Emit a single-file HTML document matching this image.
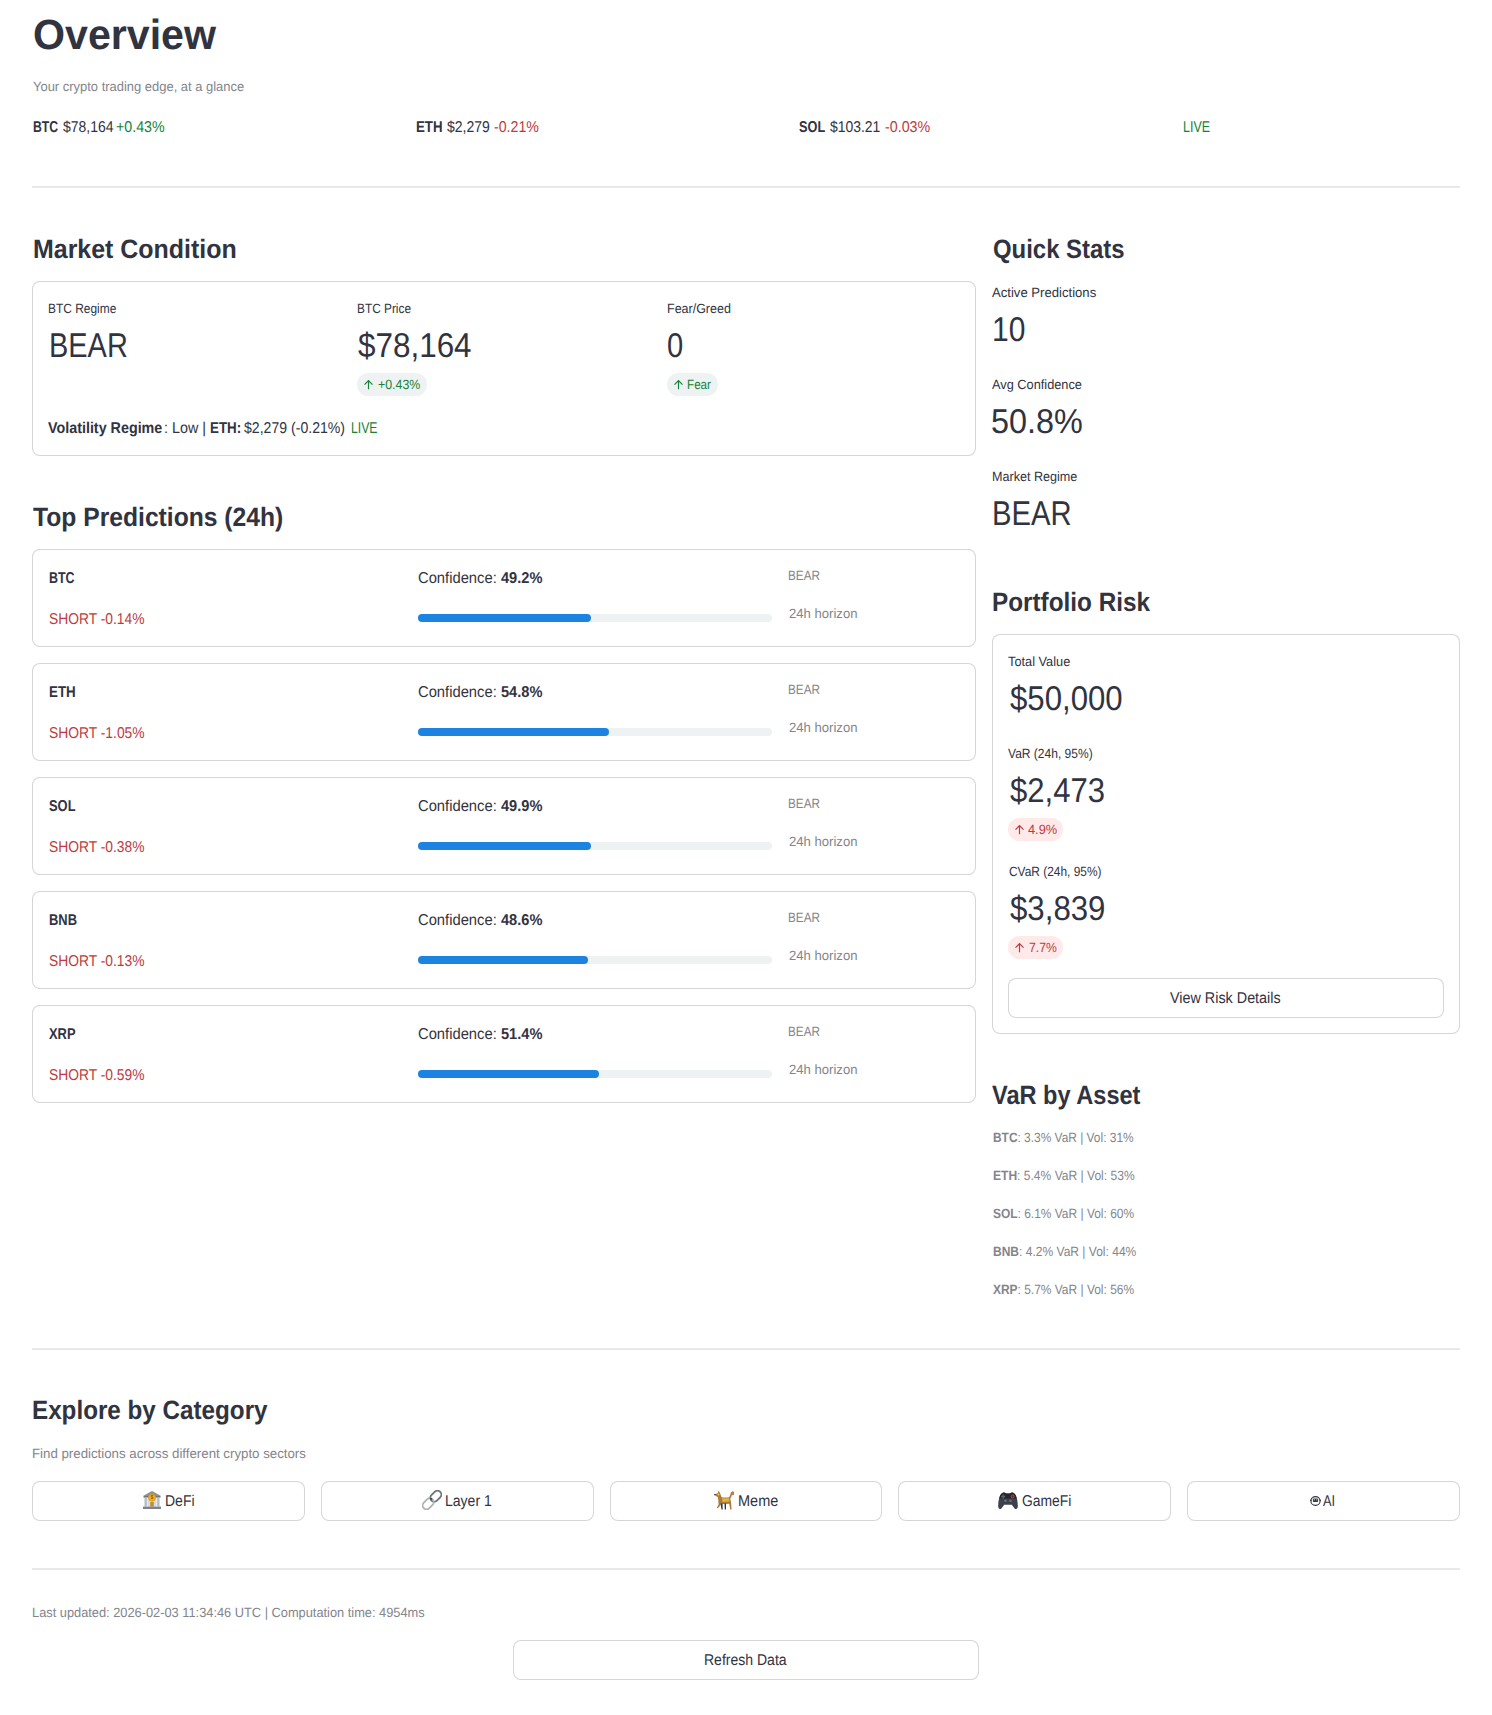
<!DOCTYPE html>
<html><head><meta charset="utf-8"><title>Overview</title><style>
*{margin:0;padding:0;box-sizing:border-box}
html,body{width:1492px;height:1715px;background:#fff;overflow:hidden}
body{position:relative;font-family:"Liberation Sans",sans-serif;color:#31333f}
.t{position:absolute;white-space:nowrap;line-height:1;transform-origin:0 0;font-family:"Liberation Sans",sans-serif;text-rendering:geometricPrecision}
.t b{font-weight:700}
.g{color:#158237} .r{color:#bd3a3e}
.hr{position:absolute;left:32px;width:1428px;height:2px;background:#e8e8ea}
.box{position:absolute;border:1px solid rgba(49,51,63,0.2);border-radius:8px;background:#fff}
.btn{position:absolute;border:1px solid rgba(49,51,63,0.2);border-radius:8px;background:#fff}
.pill{position:absolute;border-radius:12px}
.trk{position:absolute;height:8px;border-radius:4px;background:#eff2f3}
.fil{position:absolute;height:8px;border-radius:4px;background:#1c83e1}
</style></head><body>
<div class="hr" style="top:186px"></div>
<div class="hr" style="top:1348px"></div>
<div class="hr" style="top:1568px"></div>
<div class="box" style="left:32px;top:281px;width:944px;height:175px"></div>
<div class="box" style="left:992px;top:634px;width:468px;height:400px"></div>
<div class="pill" style="left:357px;top:373px;width:70px;height:23px;background:#eef2f3"></div>
<div class="pill" style="left:667px;top:373px;width:51px;height:23px;background:#eef2f3"></div>
<div class="pill" style="left:1008px;top:818px;width:55px;height:23px;background:#ffe9e9"></div>
<div class="pill" style="left:1008px;top:936px;width:55px;height:23px;background:#ffe9e9"></div>
<svg class="d" style="position:absolute;left:363px;top:379px" width="11" height="11" viewBox="0 0 11 11"><path d="M5.5 10.3V1.6M1.5 5.6L5.5 1.6L9.5 5.6" fill="none" stroke="#158237" stroke-width="1.15"/></svg>
<svg class="d" style="position:absolute;left:673px;top:379px" width="11" height="11" viewBox="0 0 11 11"><path d="M5.5 10.3V1.6M1.5 5.6L5.5 1.6L9.5 5.6" fill="none" stroke="#158237" stroke-width="1.15"/></svg>
<svg class="d" style="position:absolute;left:1014px;top:824px" width="11" height="11" viewBox="0 0 11 11"><path d="M5.5 10.3V1.6M1.5 5.6L5.5 1.6L9.5 5.6" fill="none" stroke="#bd3a3e" stroke-width="1.15"/></svg>
<svg class="d" style="position:absolute;left:1014px;top:942px" width="11" height="11" viewBox="0 0 11 11"><path d="M5.5 10.3V1.6M1.5 5.6L5.5 1.6L9.5 5.6" fill="none" stroke="#bd3a3e" stroke-width="1.15"/></svg>
<div class="box" style="left:32px;top:549px;width:944px;height:98px"></div>
<div class="trk" style="left:418px;top:614px;width:354px"></div>
<div class="fil" style="left:418px;top:614px;width:173.46px"></div>
<div class="box" style="left:32px;top:663px;width:944px;height:98px"></div>
<div class="trk" style="left:418px;top:728px;width:354px"></div>
<div class="fil" style="left:418px;top:728px;width:191.16px"></div>
<div class="box" style="left:32px;top:777px;width:944px;height:98px"></div>
<div class="trk" style="left:418px;top:842px;width:354px"></div>
<div class="fil" style="left:418px;top:842px;width:173.46px"></div>
<div class="box" style="left:32px;top:891px;width:944px;height:98px"></div>
<div class="trk" style="left:418px;top:956px;width:354px"></div>
<div class="fil" style="left:418px;top:956px;width:169.92px"></div>
<div class="box" style="left:32px;top:1005px;width:944px;height:98px"></div>
<div class="trk" style="left:418px;top:1070px;width:354px"></div>
<div class="fil" style="left:418px;top:1070px;width:180.54px"></div>
<div class="btn" style="left:1008px;top:978px;width:436px;height:40px"></div>
<div class="btn" style="left:32.00px;top:1481px;width:272.8px;height:40px"></div>
<div class="btn" style="left:320.80px;top:1481px;width:272.8px;height:40px"></div>
<div class="btn" style="left:609.60px;top:1481px;width:272.8px;height:40px"></div>
<div class="btn" style="left:898.40px;top:1481px;width:272.8px;height:40px"></div>
<div class="btn" style="left:1187.20px;top:1481px;width:272.8px;height:40px"></div>
<div class="btn" style="left:513px;top:1640px;width:466px;height:40px"></div>
<svg class="d" style="position:absolute;left:142px;top:1490px" width="20" height="20" viewBox="0 0 20 20">
<path d="M1 6L10 1L19 6Z" fill="#8a8f98"/><rect x="1.5" y="6" width="17" height="1.6" fill="#6e737c"/>
<rect x="2.5" y="7.6" width="2.4" height="9" fill="#b8bcc2"/><rect x="15.1" y="7.6" width="2.4" height="9" fill="#b8bcc2"/>
<rect x="5.5" y="7.6" width="9" height="9" fill="#d5d8dc"/><rect x="8.3" y="12" width="3.4" height="4.6" fill="#c48a2c"/>
<rect x="1" y="16.6" width="18" height="2.4" fill="#7d828b"/>
<circle cx="10" cy="7.6" r="3.6" fill="#f2b51f" stroke="#d08f10" stroke-width="0.6"/>
<text x="10" y="9.4" font-size="5.2" text-anchor="middle" fill="#8a5a00" font-family="Liberation Sans" font-weight="bold">$</text></svg>
<svg class="d" style="position:absolute;left:422px;top:1490px" width="20" height="20" viewBox="0 0 20 20">
<g fill="none">
<rect x="7.6" y="2.3" width="12.4" height="7.8" rx="3.9" transform="rotate(-45 13.8 6.2)" stroke="#6f737a" stroke-width="1.8"/>
<rect x="0" y="9.9" width="12.4" height="7.8" rx="3.9" transform="rotate(-45 6.2 13.8)" stroke="#aeb2b7" stroke-width="1.8"/>
<path d="M8.3 8.0L9.8 9.6" stroke="#3f434a" stroke-width="1.8"/>
</g></svg>
<svg class="d" style="position:absolute;left:714px;top:1490px" width="20" height="20" viewBox="0 0 20 20">
<path d="M0.6 4.6L3.6 3.2L4.6 0.6L6.2 3.4L7.2 6.4L8.4 7.6L15 7.6L16.2 8.6L17 12L17.6 19.4L16.3 19.4L15.2 13.8L12 14L10 14L7 14L5.5 16.5L3.4 18.6L2.9 17.6L4.5 15L4.4 11L3.9 7L1.8 6Z" fill="#a97a3a"/>
<path d="M15.2 8.2C17.4 7.2 16.6 3.4 18.2 2.4C19.5 1.6 20.2 3.6 18.8 4.4" fill="none" stroke="#b07a48" stroke-width="1.7" stroke-linecap="round"/>
<path d="M8 8.3L15 8.3L15.5 11.5L8.5 12Z" fill="#e0b440"/>
<path d="M6.5 13.5L7.5 19.5L8.7 19.5L8.5 13.5Z M10.5 13.5L10.8 19.5L12 19.5L12 13.5Z" fill="#2e3440"/>
<circle cx="0.9" cy="4.6" r="0.8" fill="#2e3440"/>
<circle cx="4.5" cy="4.5" r="0.9" fill="#f5d650"/></svg>
<svg class="d" style="position:absolute;left:998px;top:1492px" width="20" height="18" viewBox="0 0 20 18">
<path d="M4 1.2C5.5 0.2 7 0.6 8 1.4L12 1.4C13 0.6 14.5 0.2 16 1.2C18.5 2.8 19.6 8 19.8 13.5C20 17 18 17.8 16.6 16.4L13.8 12.8L6.2 12.8L3.4 16.4C2 17.8 0 17 0.2 13.5C0.4 8 1.5 2.8 4 1.2Z" fill="#3d414b"/>
<path d="M4 1.2C5.5 0.2 7 0.6 8 1.4L12 1.4C13 0.6 14.5 0.2 16 1.2C17.5 2.2 18.2 4 18.7 6.5L1.3 6.5C1.8 4 2.5 2.2 4 1.2Z" fill="#23262d"/>
<path d="M3.2 4.5H7.2M5.2 2.5V6.5" stroke="#5d636e" stroke-width="1.3"/>
<circle cx="14.6" cy="4.4" r="1.5" fill="#3a3e48" stroke="#d33a3a" stroke-width="0.9"/><circle cx="7.5" cy="8.8" r="1.3" fill="#6b717c"/><circle cx="12.5" cy="8.8" r="1.3" fill="#6b717c"/></svg>
<svg class="d" style="position:absolute;left:1310px;top:1495.6px" width="11" height="10" viewBox="0 0 11 10">
<ellipse cx="5.5" cy="5" rx="4.6" ry="4.4" fill="none" stroke="#31333f" stroke-width="1.1"/>
<rect x="2.9" y="2.6" width="5.2" height="3.4" rx="0.8" fill="#31333f"/>
<rect x="3.8" y="3.4" width="1" height="0.9" fill="#fff"/><rect x="6.2" y="3.4" width="1" height="0.9" fill="#fff"/>
<path d="M0.5 5L1.2 3.8M10.5 5L9.8 3.8" stroke="#31333f" stroke-width="1.2"/></svg>
<div class="t" id="title" style="left:32.59px;top:14.00px;font-size:42.20px;font-weight:700;transform:scaleX(0.9753)">Overview</div>
<div class="t" id="sub" style="left:32.79px;top:80.00px;font-size:13.40px;color:#83858c;transform:scaleX(0.9672)">Your crypto trading edge, at a glance</div>
<div class="t" id="tk1a" style="left:32.88px;top:120.00px;font-size:15.65px;font-weight:700;transform:scaleX(0.7834)">BTC</div>
<div class="t" id="tk1b" style="left:62.58px;top:120.00px;font-size:15.65px;transform:scaleX(0.8939)">$78,164</div>
<div class="t" id="tk1c" style="left:116.48px;top:120.00px;font-size:15.65px;color:#158237;transform:scaleX(0.9089)">+0.43%</div>
<div class="t" id="tk2a" style="left:415.93px;top:120.00px;font-size:15.65px;font-weight:700;transform:scaleX(0.8491)">ETH</div>
<div class="t" id="tk2b" style="left:447.13px;top:120.00px;font-size:15.65px;transform:scaleX(0.8956)">$2,279</div>
<div class="t" id="tk2c" style="left:493.68px;top:120.00px;font-size:15.65px;color:#bd3a3e;transform:scaleX(0.9057)">-0.21%</div>
<div class="t" id="tk3a" style="left:799.00px;top:120.00px;font-size:15.65px;font-weight:700;transform:scaleX(0.8135)">SOL</div>
<div class="t" id="tk3b" style="left:830.11px;top:120.00px;font-size:15.65px;transform:scaleX(0.8910)">$103.21</div>
<div class="t" id="tk3c" style="left:884.60px;top:120.00px;font-size:15.65px;color:#bd3a3e;transform:scaleX(0.9111)">-0.03%</div>
<div class="t" id="tk4" style="left:1183.40px;top:120.00px;font-size:15.65px;transform:scaleX(0.7959)"><span class=g>LIVE</span></div>
<div class="t" id="h_mc" style="left:33.39px;top:236.00px;font-size:26.50px;font-weight:700;transform:scaleX(0.9414)">Market Condition</div>
<div class="t" id="h_qs" style="left:992.60px;top:236.00px;font-size:26.50px;font-weight:700;transform:scaleX(0.9021)">Quick Stats</div>
<div class="t" id="l_reg" style="left:48.40px;top:302.00px;font-size:13.40px;transform:scaleX(0.8914)">BTC Regime</div>
<div class="t" id="l_pr" style="left:357.40px;top:302.00px;font-size:13.40px;transform:scaleX(0.8849)">BTC Price</div>
<div class="t" id="l_fg" style="left:666.60px;top:302.00px;font-size:13.40px;transform:scaleX(0.9324)">Fear/Greed</div>
<div class="t" id="v_reg" style="left:49.19px;top:329.00px;font-size:34.40px;transform:scaleX(0.8418)">BEAR</div>
<div class="t" id="v_pr" style="left:358.40px;top:329.00px;font-size:34.40px;transform:scaleX(0.9137)">$78,164</div>
<div class="t" id="v_fg" style="left:667.19px;top:329.00px;font-size:34.40px;transform:scaleX(0.8479)">0</div>
<div class="t" id="d_pr" style="left:378.00px;top:378.00px;font-size:13.40px;color:#158237;transform:scaleX(0.9238)">+0.43%</div>
<div class="t" id="d_fg" style="left:687.40px;top:378.00px;font-size:13.40px;color:#158237;transform:scaleX(0.8716)">Fear</div>
<div class="t" id="vol1" style="left:48.38px;top:421.00px;font-size:15.65px;font-weight:700;transform:scaleX(0.9154)">Volatility Regime</div>
<div class="t" id="vol2" style="left:163.88px;top:421.00px;font-size:15.65px;transform:scaleX(0.9185)">: Low |</div>
<div class="t" id="vol3" style="left:210.05px;top:421.00px;font-size:15.65px;font-weight:700;transform:scaleX(0.8542)">ETH:</div>
<div class="t" id="vol4" style="left:244.48px;top:421.00px;font-size:15.65px;transform:scaleX(0.9008)">$2,279 (-0.21%)</div>
<div class="t" id="vol5" style="left:351.40px;top:421.00px;font-size:15.65px;color:#158237;transform:scaleX(0.7822)">LIVE</div>
<div class="t" id="l_ap" style="left:992.00px;top:286.00px;font-size:13.40px;transform:scaleX(0.9792)">Active Predictions</div>
<div class="t" id="v_ap" style="left:992.40px;top:313.00px;font-size:34.40px;transform:scaleX(0.8718)">10</div>
<div class="t" id="l_ac" style="left:992.00px;top:378.00px;font-size:13.40px;transform:scaleX(0.9536)">Avg Confidence</div>
<div class="t" id="v_ac" style="left:991.40px;top:405.00px;font-size:34.40px;transform:scaleX(0.9412)">50.8%</div>
<div class="t" id="l_mr" style="left:992.40px;top:470.00px;font-size:13.40px;transform:scaleX(0.9401)">Market Regime</div>
<div class="t" id="v_mr" style="left:992.40px;top:497.00px;font-size:34.40px;transform:scaleX(0.8501)">BEAR</div>
<div class="t" id="h_tp" style="left:33.00px;top:504.00px;font-size:26.50px;font-weight:700;transform:scaleX(0.9305)">Top Predictions (24h)</div>
<div class="t" id="c0_sym" style="left:48.59px;top:571.00px;font-size:15.65px;font-weight:700;transform:scaleX(0.7961)">BTC</div>
<div class="t" id="c0_chg" style="left:48.59px;top:612.00px;font-size:15.65px;color:#bd3a3e;transform:scaleX(0.8834)">SHORT -0.14%</div>
<div class="t" id="c0_conf" style="left:418.40px;top:571.00px;font-size:15.65px;transform:scaleX(0.9435)">Confidence:</div>
<div class="t" id="c0_cnum" style="left:501.00px;top:571.00px;font-size:15.65px;font-weight:700;transform:scaleX(0.9339)">49.2%</div>
<div class="t" id="c0_bear" style="left:787.59px;top:569.00px;font-size:13.40px;color:#83858c;transform:scaleX(0.8754)">BEAR</div>
<div class="t" id="c0_hz" style="left:788.59px;top:607.00px;font-size:13.40px;color:#83858c;transform:scaleX(0.9782)">24h horizon</div>
<div class="t" id="c1_sym" style="left:48.59px;top:685.00px;font-size:15.65px;font-weight:700;transform:scaleX(0.8546)">ETH</div>
<div class="t" id="c1_chg" style="left:48.59px;top:726.00px;font-size:15.65px;color:#bd3a3e;transform:scaleX(0.8845)">SHORT -1.05%</div>
<div class="t" id="c1_conf" style="left:418.40px;top:685.00px;font-size:15.65px;transform:scaleX(0.9435)">Confidence:</div>
<div class="t" id="c1_cnum" style="left:501.00px;top:685.00px;font-size:15.65px;font-weight:700;transform:scaleX(0.9339)">54.8%</div>
<div class="t" id="c1_bear" style="left:787.59px;top:683.00px;font-size:13.40px;color:#83858c;transform:scaleX(0.8754)">BEAR</div>
<div class="t" id="c1_hz" style="left:788.59px;top:721.00px;font-size:13.40px;color:#83858c;transform:scaleX(0.9782)">24h horizon</div>
<div class="t" id="c2_sym" style="left:48.59px;top:799.00px;font-size:15.65px;font-weight:700;transform:scaleX(0.8253)">SOL</div>
<div class="t" id="c2_chg" style="left:48.59px;top:840.00px;font-size:15.65px;color:#bd3a3e;transform:scaleX(0.8840)">SHORT -0.38%</div>
<div class="t" id="c2_conf" style="left:418.40px;top:799.00px;font-size:15.65px;transform:scaleX(0.9435)">Confidence:</div>
<div class="t" id="c2_cnum" style="left:501.00px;top:799.00px;font-size:15.65px;font-weight:700;transform:scaleX(0.9339)">49.9%</div>
<div class="t" id="c2_bear" style="left:787.59px;top:797.00px;font-size:13.40px;color:#83858c;transform:scaleX(0.8754)">BEAR</div>
<div class="t" id="c2_hz" style="left:788.59px;top:835.00px;font-size:13.40px;color:#83858c;transform:scaleX(0.9782)">24h horizon</div>
<div class="t" id="c3_sym" style="left:48.59px;top:913.00px;font-size:15.65px;font-weight:700;transform:scaleX(0.8253)">BNB</div>
<div class="t" id="c3_chg" style="left:48.59px;top:954.00px;font-size:15.65px;color:#bd3a3e;transform:scaleX(0.8840)">SHORT -0.13%</div>
<div class="t" id="c3_conf" style="left:418.40px;top:913.00px;font-size:15.65px;transform:scaleX(0.9435)">Confidence:</div>
<div class="t" id="c3_cnum" style="left:501.00px;top:913.00px;font-size:15.65px;font-weight:700;transform:scaleX(0.9339)">48.6%</div>
<div class="t" id="c3_bear" style="left:787.59px;top:911.00px;font-size:13.40px;color:#83858c;transform:scaleX(0.8754)">BEAR</div>
<div class="t" id="c3_hz" style="left:788.59px;top:949.00px;font-size:13.40px;color:#83858c;transform:scaleX(0.9782)">24h horizon</div>
<div class="t" id="c4_sym" style="left:48.59px;top:1027.00px;font-size:15.65px;font-weight:700;transform:scaleX(0.8253)">XRP</div>
<div class="t" id="c4_chg" style="left:48.59px;top:1068.00px;font-size:15.65px;color:#bd3a3e;transform:scaleX(0.8840)">SHORT -0.59%</div>
<div class="t" id="c4_conf" style="left:418.40px;top:1027.00px;font-size:15.65px;transform:scaleX(0.9435)">Confidence:</div>
<div class="t" id="c4_cnum" style="left:501.00px;top:1027.00px;font-size:15.65px;font-weight:700;transform:scaleX(0.9339)">51.4%</div>
<div class="t" id="c4_bear" style="left:787.59px;top:1025.00px;font-size:13.40px;color:#83858c;transform:scaleX(0.8754)">BEAR</div>
<div class="t" id="c4_hz" style="left:788.59px;top:1063.00px;font-size:13.40px;color:#83858c;transform:scaleX(0.9782)">24h horizon</div>
<div class="t" id="h_pr" style="left:992.40px;top:589.00px;font-size:26.50px;font-weight:700;transform:scaleX(0.9174)">Portfolio Risk</div>
<div class="t" id="l_tv" style="left:1008.40px;top:655.00px;font-size:13.40px;transform:scaleX(0.9540)">Total Value</div>
<div class="t" id="v_tv" style="left:1009.79px;top:682.00px;font-size:34.40px;transform:scaleX(0.9062)">$50,000</div>
<div class="t" id="l_var" style="left:1008.19px;top:747.00px;font-size:13.40px;transform:scaleX(0.8978)">VaR (24h, 95%)</div>
<div class="t" id="v_var" style="left:1009.59px;top:774.00px;font-size:34.40px;transform:scaleX(0.9036)">$2,473</div>
<div class="t" id="d_var" style="left:1028.40px;top:823.00px;font-size:13.40px;color:#bd3a3e;transform:scaleX(0.9560)">4.9%</div>
<div class="t" id="l_cvar" style="left:1008.59px;top:865.00px;font-size:13.40px;transform:scaleX(0.8897)">CVaR (24h, 95%)</div>
<div class="t" id="v_cvar" style="left:1009.59px;top:892.00px;font-size:34.40px;transform:scaleX(0.9076)">$3,839</div>
<div class="t" id="d_cvar" style="left:1029.39px;top:941.00px;font-size:13.40px;color:#bd3a3e;transform:scaleX(0.9105)">7.7%</div>
<div class="t" id="b_vrd" style="left:1170.40px;top:991.00px;font-size:15.65px;transform:scaleX(0.9181)">View Risk Details</div>
<div class="t" id="h_va" style="left:992.00px;top:1082.00px;font-size:26.50px;font-weight:700;transform:scaleX(0.8893)">VaR by Asset</div>
<div class="t" id="va0" style="left:992.59px;top:1131.00px;font-size:13.40px;color:#83858c;transform:scaleX(0.8896)"><b>BTC</b>: 3.3% VaR | Vol: 31%</div>
<div class="t" id="va1" style="left:992.59px;top:1169.00px;font-size:13.40px;color:#83858c;transform:scaleX(0.9002)"><b>ETH</b>: 5.4% VaR | Vol: 53%</div>
<div class="t" id="va2" style="left:992.59px;top:1207.00px;font-size:13.40px;color:#83858c;transform:scaleX(0.8925)"><b>SOL</b>: 6.1% VaR | Vol: 60%</div>
<div class="t" id="va3" style="left:992.59px;top:1245.00px;font-size:13.40px;color:#83858c;transform:scaleX(0.8982)"><b>BNB</b>: 4.2% VaR | Vol: 44%</div>
<div class="t" id="va4" style="left:992.59px;top:1283.00px;font-size:13.40px;color:#83858c;transform:scaleX(0.8925)"><b>XRP</b>: 5.7% VaR | Vol: 56%</div>
<div class="t" id="h_ec" style="left:32.00px;top:1397.00px;font-size:26.50px;font-weight:700;transform:scaleX(0.9139)">Explore by Category</div>
<div class="t" id="ec_cap" style="left:31.79px;top:1447.00px;font-size:13.40px;color:#83858c;transform:scaleX(0.9902)">Find predictions across different crypto sectors</div>
<div class="t" id="bt0" style="left:165.19px;top:1494.00px;font-size:15.65px;transform:scaleX(0.8951)">DeFi</div>
<div class="t" id="bt1" style="left:445.39px;top:1494.00px;font-size:15.65px;transform:scaleX(0.8960)">Layer 1</div>
<div class="t" id="bt2" style="left:738.19px;top:1494.00px;font-size:15.65px;transform:scaleX(0.9280)">Meme</div>
<div class="t" id="bt3" style="left:1022.00px;top:1494.00px;font-size:15.65px;transform:scaleX(0.8879)">GameFi</div>
<div class="t" id="bt4" style="left:1323.39px;top:1494.00px;font-size:15.65px;transform:scaleX(0.8195)">AI</div>
<div class="t" id="foot" style="left:31.59px;top:1606.00px;font-size:13.40px;color:#83858c;transform:scaleX(0.9568)">Last updated: 2026-02-03 11:34:46 UTC | Computation time: 4954ms</div>
<div class="t" id="b_ref" style="left:703.59px;top:1653.00px;font-size:15.65px;transform:scaleX(0.8960)">Refresh Data</div>
</body></html>
